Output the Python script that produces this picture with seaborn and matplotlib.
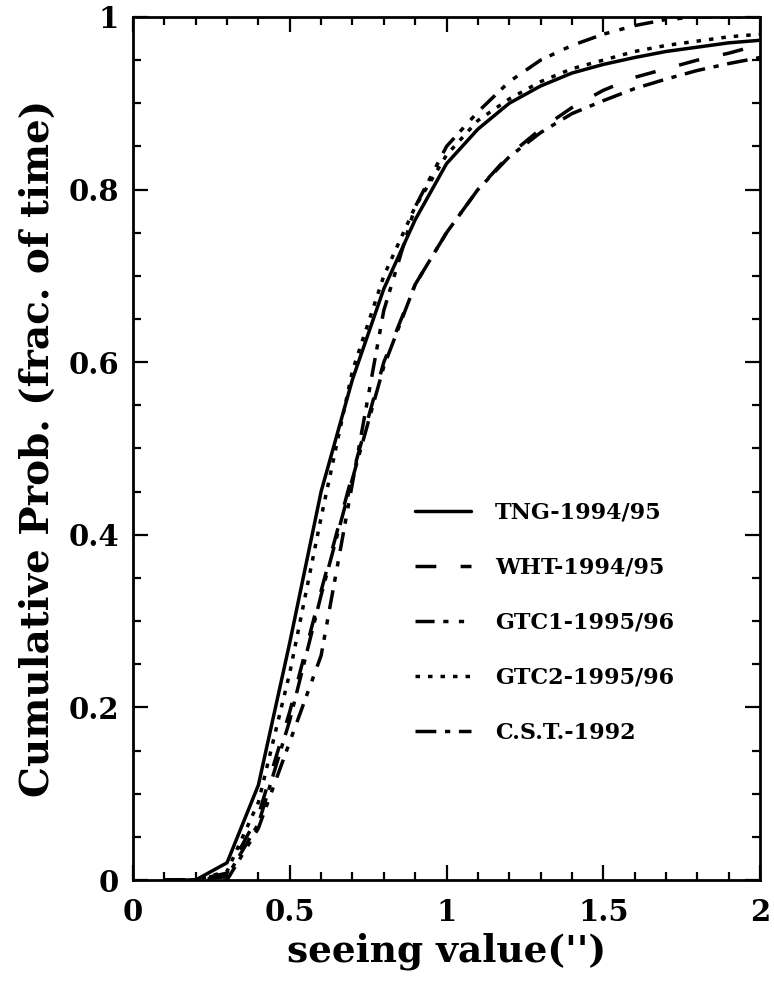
import numpy as np
import pandas as pd
import matplotlib
matplotlib.use('Agg')
import matplotlib.pyplot as plt
import seaborn as sns

# 数据
seeing = [0.1, 0.2, 0.3, 0.4, 0.5, 0.6, 0.7, 0.8, 0.9, 1.0,
          1.1, 1.2, 1.3, 1.4, 1.5, 1.6, 1.7, 1.8, 1.9, 2.0]

tng_9495 = [0, 0, 0.02, 0.11, 0.275, 0.45, 0.58, 0.685, 0.765, 0.83,
            0.87, 0.90, 0.92, 0.935, 0.945, 0.953, 0.96, 0.965, 0.97, 0.973]
wht_9495 = [0, 0, 0.008, 0.075, 0.195, 0.335, 0.47, 0.60, 0.69, 0.75,
            0.80, 0.84, 0.87, 0.895, 0.915, 0.93, 0.94, 0.95, 0.958, 0.968]
gtc1_9596 = [0, 0, 0.0, 0.06, 0.16, 0.26, 0.46, 0.66, 0.78, 0.85,
             0.89, 0.925, 0.95, 0.967, 0.98, 0.99, 0.997, 1.0, 1.0, 1.0]
gtc2_9596 = [0, 0, 0.01, 0.09, 0.24, 0.42, 0.59, 0.70, 0.78, 0.84,
             0.88, 0.905, 0.925, 0.94, 0.95, 0.96, 0.967, 0.972, 0.977, 0.98]
cst_1992 = [0, 0, 0.004, 0.065, 0.185, 0.33, 0.465, 0.595, 0.69, 0.75,
            0.80, 0.838, 0.866, 0.888, 0.903, 0.917, 0.928, 0.938, 0.946, 0.953]

labels = ['TNG-1994/95', 'WHT-1994/95', 'GTC1-1995/96', 'GTC2-1995/96', 'C.S.T.-1992']
series = [tng_9495, wht_9495, gtc1_9596, gtc2_9596, cst_1992]

x_ticks = [0, 0.5, 1, 1.5, 2]
x_ticklabels = ['0', '0.5', '1', '1.5', '2']
y_ticks = [0, 0.2, 0.4, 0.6, 0.8, 1]
y_ticklabels = ['0', '0.2', '0.4', '0.6', '0.8', '1']

# 长表
df = pd.concat([pd.DataFrame({'seeing': seeing, 'prob': s, 'site': lab})
                for s, lab in zip(series, labels)], ignore_index=True)

sns.set_style('ticks')
plt.rcParams['font.family'] = ['DejaVu Serif']
plt.rcParams['text.color'] = 'black'
plt.rcParams['axes.labelcolor'] = 'black'
plt.rcParams['axes.edgecolor'] = 'black'
plt.rcParams['xtick.color'] = 'black'
plt.rcParams['ytick.color'] = 'black'

dash_map = {
    'TNG-1994/95': '',
    'WHT-1994/95': (6, 7),
    'GTC1-1995/96': (5.5, 2.5, 1.5, 3, 1.5, 3),
    'GTC2-1995/96': (1.3, 2.3),
    'C.S.T.-1992': (6, 2.5, 1.5, 2.5),
}

fig = plt.figure(figsize=(7.74, 9.86), dpi=100)
ax = fig.add_axes([0.1718, 0.1075, 0.8102, 0.8753])

sns.lineplot(data=df, x='seeing', y='prob', style='site', style_order=labels,
             dashes=dash_map, color='black', linewidth=2.5, ax=ax, sort=True)

ax.set_xlim(0, 2)
ax.set_ylim(0, 1)
ax.set_xticks(x_ticks)
ax.set_xticklabels(x_ticklabels)
ax.set_yticks(y_ticks)
ax.set_yticklabels(y_ticklabels)
ax.set_xticks(np.arange(0, 2.01, 0.1), minor=True)
ax.set_yticks(np.arange(0, 1.001, 0.05), minor=True)

ax.tick_params(which='both', direction='in', top=True, right=True, width=1.6, colors='black')
ax.tick_params(which='major', length=11, labelsize=21, pad=10)
ax.tick_params(axis='x', which='major', pad=13)
ax.tick_params(which='minor', length=5.5)
for lab in ax.get_xticklabels() + ax.get_yticklabels():
    lab.set_fontweight('bold')
for sp in ax.spines.values():
    sp.set_linewidth(2.0)
    sp.set_color('black')

ax.set_xlabel("seeing value('')", fontsize=27, fontweight='bold', labelpad=4)
ax.set_ylabel('Cumulative Prob. (frac. of time)', fontsize=28, fontweight='bold', labelpad=8)

handles, labs = ax.get_legend_handles_labels()
for h in handles:
    h.set_linewidth(2.5)
ax.legend(handles, labs, loc='upper left', bbox_to_anchor=(0.45, 0.438),
          frameon=False, borderaxespad=0, borderpad=0,
          handlelength=2.5, handletextpad=1.1, labelspacing=1.48,
          prop={'family': 'DejaVu Serif', 'weight': 'bold', 'size': 16})

plt.savefig('out.png', dpi=100)
plt.close()
